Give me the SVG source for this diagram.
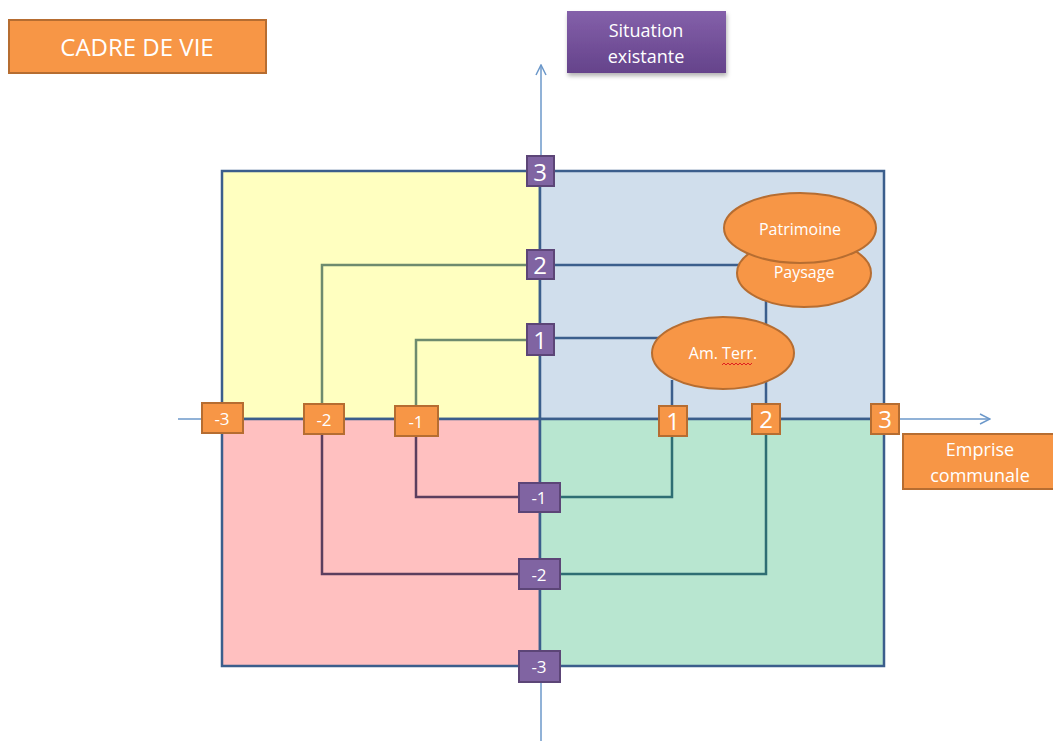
<svg xmlns="http://www.w3.org/2000/svg" width="1053" height="741" viewBox="0 0 1053 741">
<defs>
<linearGradient id="pg" x1="0" y1="0" x2="0" y2="1"><stop offset="0" stop-color="#8460AA"/><stop offset="1" stop-color="#65438B"/></linearGradient>
<filter id="sh" x="-10%" y="-10%" width="130%" height="140%"><feDropShadow dx="1" dy="3" stdDeviation="2" flood-color="#000" flood-opacity="0.3"/></filter>
<marker id="ar" viewBox="0 0 12 12" refX="11" refY="6" markerWidth="12" markerHeight="12" markerUnits="userSpaceOnUse" orient="auto"><path d="M1,1 L11,6 L1,11" fill="none" stroke="#6C98CA" stroke-width="1.5"/></marker>
</defs>
<style>
.q{stroke:#3B5E8C;stroke-width:2.5}
.ax{stroke:#6C98CA;stroke-width:1.5;fill:none}
.ob{fill:#F79646;stroke:#B66D31;stroke-width:2}
.pb{fill:#8064A2;stroke:#5C4577;stroke-width:2}
.t{font-family:"Open Sans","Liberation Sans",sans-serif;fill:#fff;text-anchor:middle}
.el{fill:#F79646;stroke:#B66D31;stroke-width:2}
.cy{stroke:#6E8B6E;stroke-width:2.5;fill:none}
.cp{stroke:#5B3E5E;stroke-width:2.5;fill:none}
.cg{stroke:#2E6E73;stroke-width:2.5;fill:none}
.cb{stroke:#3B5E8C;stroke-width:2.5;fill:none}
</style>
<rect width="1053" height="741" fill="#fff"/>
<g id="quadrants">
<rect x="222" y="171" width="318" height="248" fill="#FFFFC0" class="q"/>
<rect x="540" y="171" width="344" height="248" fill="#D0DEEC" class="q"/>
<rect x="222" y="419" width="318" height="247" fill="#FFC0C0" class="q"/>
<rect x="540" y="419" width="344" height="247" fill="#B8E6D0" class="q"/>
</g>
<g id="axes">
<line x1="541" y1="741" x2="541" y2="666" class="ax"/>
<line x1="541" y1="171" x2="541" y2="65" class="ax" marker-end="url(#ar)"/>
<line x1="178" y1="419" x2="222" y2="419" class="ax"/>
<line x1="884" y1="419" x2="990" y2="419" class="ax" marker-end="url(#ar)"/>
</g>
<g id="connectors">
<polyline points="527,265 322,265 322,404" class="cy"/>
<polyline points="527,340 416,340 416,405" class="cy"/>
<polyline points="322,434 322,574 519,574" class="cp"/>
<polyline points="416,436 416,497 519,497" class="cp"/>
<polyline points="560,574 766,574 766,434" class="cg"/>
<polyline points="560,497 672,497 672,436" class="cg"/>
<line x1="554" y1="265" x2="745" y2="265" class="cb"/>
<line x1="554" y1="338" x2="660" y2="338" class="cb"/>
<line x1="766" y1="300" x2="766" y2="403" class="cb"/>
<line x1="672" y1="380" x2="672" y2="405" class="cb"/>
</g>
<g id="paysage"><ellipse cx="804" cy="273" rx="67" ry="34" class="el"/><text x="804" y="278" class="t" font-size="16">Paysage</text></g>
<g id="patrimoine"><ellipse cx="800" cy="228" rx="76" ry="35" class="el"/><text x="800" y="235" class="t" font-size="16">Patrimoine</text></g>
<g id="amterr"><ellipse cx="723" cy="353" rx="71" ry="36" class="el"/><text x="723" y="359" class="t" font-size="16">Am. Terr.</text>
<polyline points="722,365 724,363 726,365 728,363 730,365 732,363 734,365 736,363 738,365 740,363 742,365 744,363 746,365 748,363 750,365 752,363" fill="none" stroke="#E02020" stroke-width="1"/></g>
<g id="cadre"><rect x="9" y="20" width="257" height="53" class="ob" stroke-width="2.5"/><text x="137" y="56" class="t" font-size="24">CADRE DE VIE</text></g>
<g id="situation"><rect x="567" y="11" width="159" height="62" fill="url(#pg)" filter="url(#sh)"/><text x="646" y="37" class="t" font-size="18" fill="#EEE8F4">Situation</text><text x="646" y="63" class="t" font-size="18" fill="#EEE8F4">existante</text></g>
<g id="emprise"><rect x="903" y="434" width="152" height="55" class="ob"/><text x="980" y="456" class="t" font-size="18">Emprise</text><text x="980" y="482" class="t" font-size="18">communale</text></g>
<g id="y3"><rect x="527" y="156" width="27" height="30" class="pb"/><text x="540" y="181" class="t" font-size="24">3</text></g>
<g id="y2"><rect x="527" y="250" width="27" height="29" class="pb"/><text x="540" y="274" class="t" font-size="24">2</text></g>
<g id="y1"><rect x="527" y="324" width="27" height="31" class="pb"/><text x="540" y="349" class="t" font-size="24">1</text></g>
<g id="ym1"><rect x="519" y="483" width="41" height="29" class="pb"/><text x="539" y="504" class="t" font-size="17">-1</text></g>
<g id="ym2"><rect x="519" y="559" width="41" height="30" class="pb"/><text x="539" y="581" class="t" font-size="17">-2</text></g>
<g id="ym3"><rect x="519" y="651" width="41" height="31" class="pb"/><text x="539" y="673" class="t" font-size="17">-3</text></g>
<g id="xm3"><rect x="202" y="403" width="41" height="30" class="ob"/><text x="222" y="425" class="t" font-size="17">-3</text></g>
<g id="xm2"><rect x="304" y="404" width="40" height="30" class="ob"/><text x="324" y="426" class="t" font-size="17">-2</text></g>
<g id="xm1"><rect x="395" y="406" width="43" height="30" class="ob"/><text x="416" y="428" class="t" font-size="17">-1</text></g>
<g id="x1"><rect x="659" y="406" width="28" height="30" class="ob"/><text x="673" y="430" class="t" font-size="24">1</text></g>
<g id="x2"><rect x="752" y="404" width="28" height="30" class="ob"/><text x="766" y="428" class="t" font-size="24">2</text></g>
<g id="x3"><rect x="871" y="404" width="28" height="30" class="ob"/><text x="885" y="428" class="t" font-size="24">3</text></g>
</svg>
